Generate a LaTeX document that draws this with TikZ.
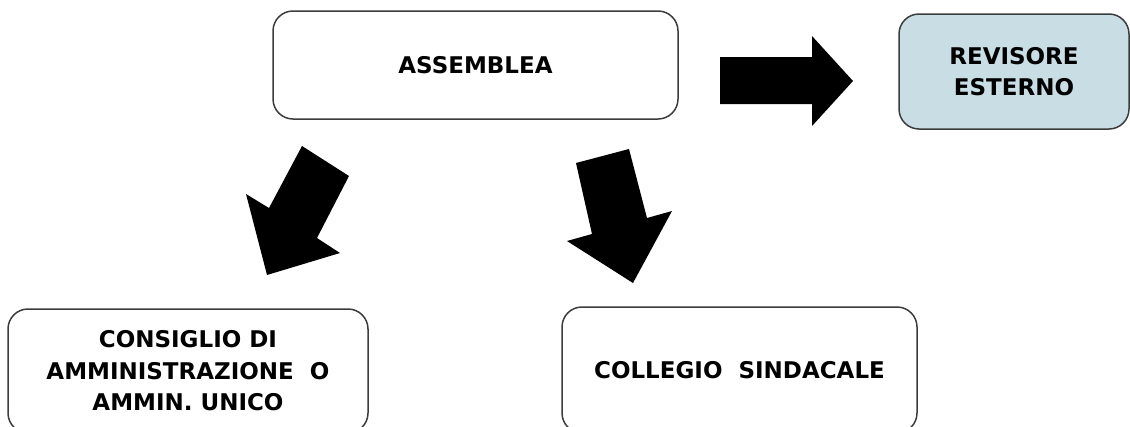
\documentclass[tikz,border=0pt]{standalone}
\usepackage{fontspec}
\setmainfont{DejaVu Sans}
\usepackage{tikz}

\definecolor{boxline}{HTML}{3C3C3C}
\definecolor{revfill}{HTML}{C9DDE5}

\begin{document}
\begin{tikzpicture}[x=1pt,y=-1pt,
  organ/.style={draw=boxline,line width=1.5pt,rounded corners=20pt,fill=white,
    align=center,inner sep=0pt,font=\fontsize{23}{31.5}\selectfont\bfseries},
  bigarrow/.style={fill=black,draw=none}]
  \useasboundingbox (0,0) rectangle (1130,426);

  % boxes
  \node [organ,minimum width=405pt,minimum height=108pt] (assemblea) at (475.5,65) {ASSEMBLEA};
  \node [organ,fill=revfill,minimum width=230pt,minimum height=115pt] (revisore) at (1014,71.5) {REVISORE\\ESTERNO};
  \node [organ,minimum width=360pt,minimum height=124pt] (consiglio) at (188,371) {CONSIGLIO DI\\AMMINISTRAZIONE\ \ O\\AMMIN. UNICO};
  \node [organ,minimum width=355pt,minimum height=126pt] (collegio) at (739.5,370) {COLLEGIO\ \ SINDACALE};

  % block arrows
  \fill [bigarrow] (720,57) -- (812,57) -- (812,36) -- (853,81) -- (812,126) -- (812,104) -- (720,104) -- cycle;
  \fill [bigarrow] (302,146) -- (349,176) -- (317,238) -- (340,253) -- (267,275) -- (246,194) -- (269,208) -- cycle;
  \fill [bigarrow] (576,163) -- (629,149) -- (647,218) -- (672,211) -- (633,283) -- (567,241) -- (592,234) -- cycle;

\end{tikzpicture}
\end{document}
